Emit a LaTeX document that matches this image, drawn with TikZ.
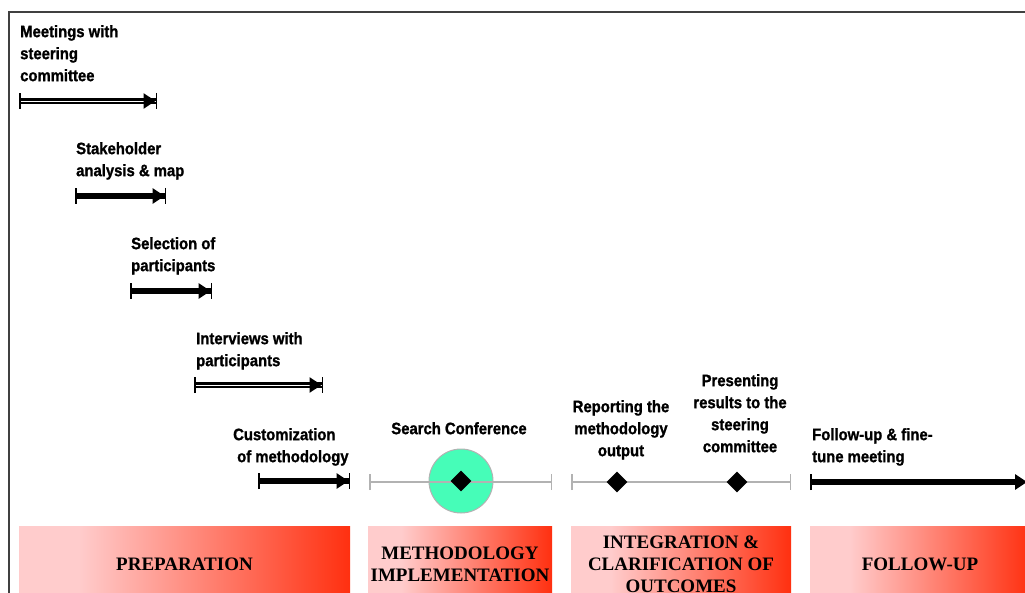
\documentclass[tikz,border=0pt]{standalone}
\usepackage{fontspec}
\setmainfont{Liberation Sans}
\newfontfamily\lblfont[FakeStretch=0.9, FakeBold=1.2]{Liberation Sans}
\newfontfamily\phasefont{Liberation Serif}
\usetikzlibrary{arrows.meta,shapes.geometric}

\definecolor{pinkl}{HTML}{FFCCCC}
\definecolor{redd}{HTML}{FF3010}
\definecolor{seagreen}{HTML}{46FDB8}
\pgfdeclarehorizontalshading{phase}{100bp}{color(0bp)=(pinkl); color(25bp)=(pinkl); color(34bp)=(pinkl); color(75bp)=(redd); color(100bp)=(redd)}

\begin{document}
\begin{tikzpicture}[x=1pt, y=-1pt,
	lbl/.style={font=\lblfont\bfseries\fontsize{16.5}{22}\selectfont, inner sep=0pt, anchor=north west, align=left},
	clbl/.style={lbl, anchor=north, align=center},
	task/.style={line width=6pt, {Bar[width=16pt, line width=1.5pt]}-{Triangle[length=12pt, width=15pt] Bar[width=16pt, line width=1.5pt]}},
	dtask/.style={task, line width=2.8pt, double=white, double distance=0.9pt},
	span/.style={line width=2.5pt, black!30, {Bar[width=16pt, line width=1.5pt]}-{Bar[width=16pt, line width=1.5pt]}},
	mile/.style={diamond, fill=black, inner sep=0pt, minimum size=21pt},
	phase/.style={shading=phase, minimum height=77pt, inner sep=0pt, align=center,
		font=\phasefont\bfseries\fontsize{19}{22}\selectfont}]
	\useasboundingbox (0,0) rectangle (1025,593);
	\draw[black!75, line width=1.5pt] (9,593) -- (9,12) -- (1025,12);

	% preparation tasks
	\node[lbl] (meet) at (20,25) {Meetings with\\steering\\committee};
	\coordinate (meetS) at (19,101);
	\coordinate (meetE) at (157,101);
	\draw[dtask] (meetS) -- (meetE);

	\node[lbl] (stake) at (76,142) {Stakeholder\\analysis \& map};
	\coordinate (stakeS) at (75,196);
	\coordinate (stakeE) at (166,196);
	\draw[task] (stakeS) -- (stakeE);

	\node[lbl] (select) at (131,237) {Selection of\\participants};
	\coordinate (selectS) at (130,291);
	\coordinate (selectE) at (212,291);
	\draw[task] (selectS) -- (selectE);

	\node[lbl] (interv) at (196,332) {Interviews with\\participants};
	\coordinate (intervS) at (194,385);
	\coordinate (intervE) at (323,385);
	\draw[dtask] (intervS) -- (intervE);

	\node[lbl] (custom) at (233,428) {Customization\\\hspace*{4pt}of methodology};
	\coordinate (customS) at (258,481);
	\coordinate (customE) at (350,481);
	\draw[task] (customS) -- (customE);

	% implementation and integration
	\node[clbl] (search) at (459,422) {Search Conference};
	\coordinate (implS) at (369,482);
	\coordinate (implE) at (552,482);
	\node[circle, fill=seagreen, draw=black!30, line width=1pt, minimum size=64pt] (conf) at (461,481) {};
	\draw[span] (implS) -- (implE);
	\node[mile] (confM) at (461,481) {};

	\node[clbl] (report) at (621,400) {Reporting the\\methodology\\output};
	\node[clbl] (present) at (740,374) {Presenting\\results to the\\steering\\committee};
	\coordinate (integS) at (571,482);
	\coordinate (integE) at (791,482);
	\draw[span] (integS) -- (integE);
	\node[mile] (reportM) at (617,482) {};
	\node[mile] (presentM) at (737,482) {};

	% follow-up
	\node[lbl] (follow) at (812,428) {Follow-up \& fine-\\tune meeting};
	\coordinate (followS) at (810,482);
	\coordinate (followE) at (1027,482);
	\draw[task, {Bar[width=16pt, line width=1.5pt]}-{Triangle[length=12pt, width=15pt]}] (followS) -- (followE);

	% phases
	\node[phase, minimum width=331pt] (prep) at (184.5,564.5) {PREPARATION};
	\node[phase, minimum width=184pt] (meth) at (460,564.5) {METHODOLOGY\\IMPLEMENTATION};
	\node[phase, minimum width=220pt] (integ) at (681,564.5) {INTEGRATION \&\\CLARIFICATION OF\\OUTCOMES};
	\node[phase, minimum width=220pt] (fup) at (920,564.5) {FOLLOW-UP};
\end{tikzpicture}
\end{document}
